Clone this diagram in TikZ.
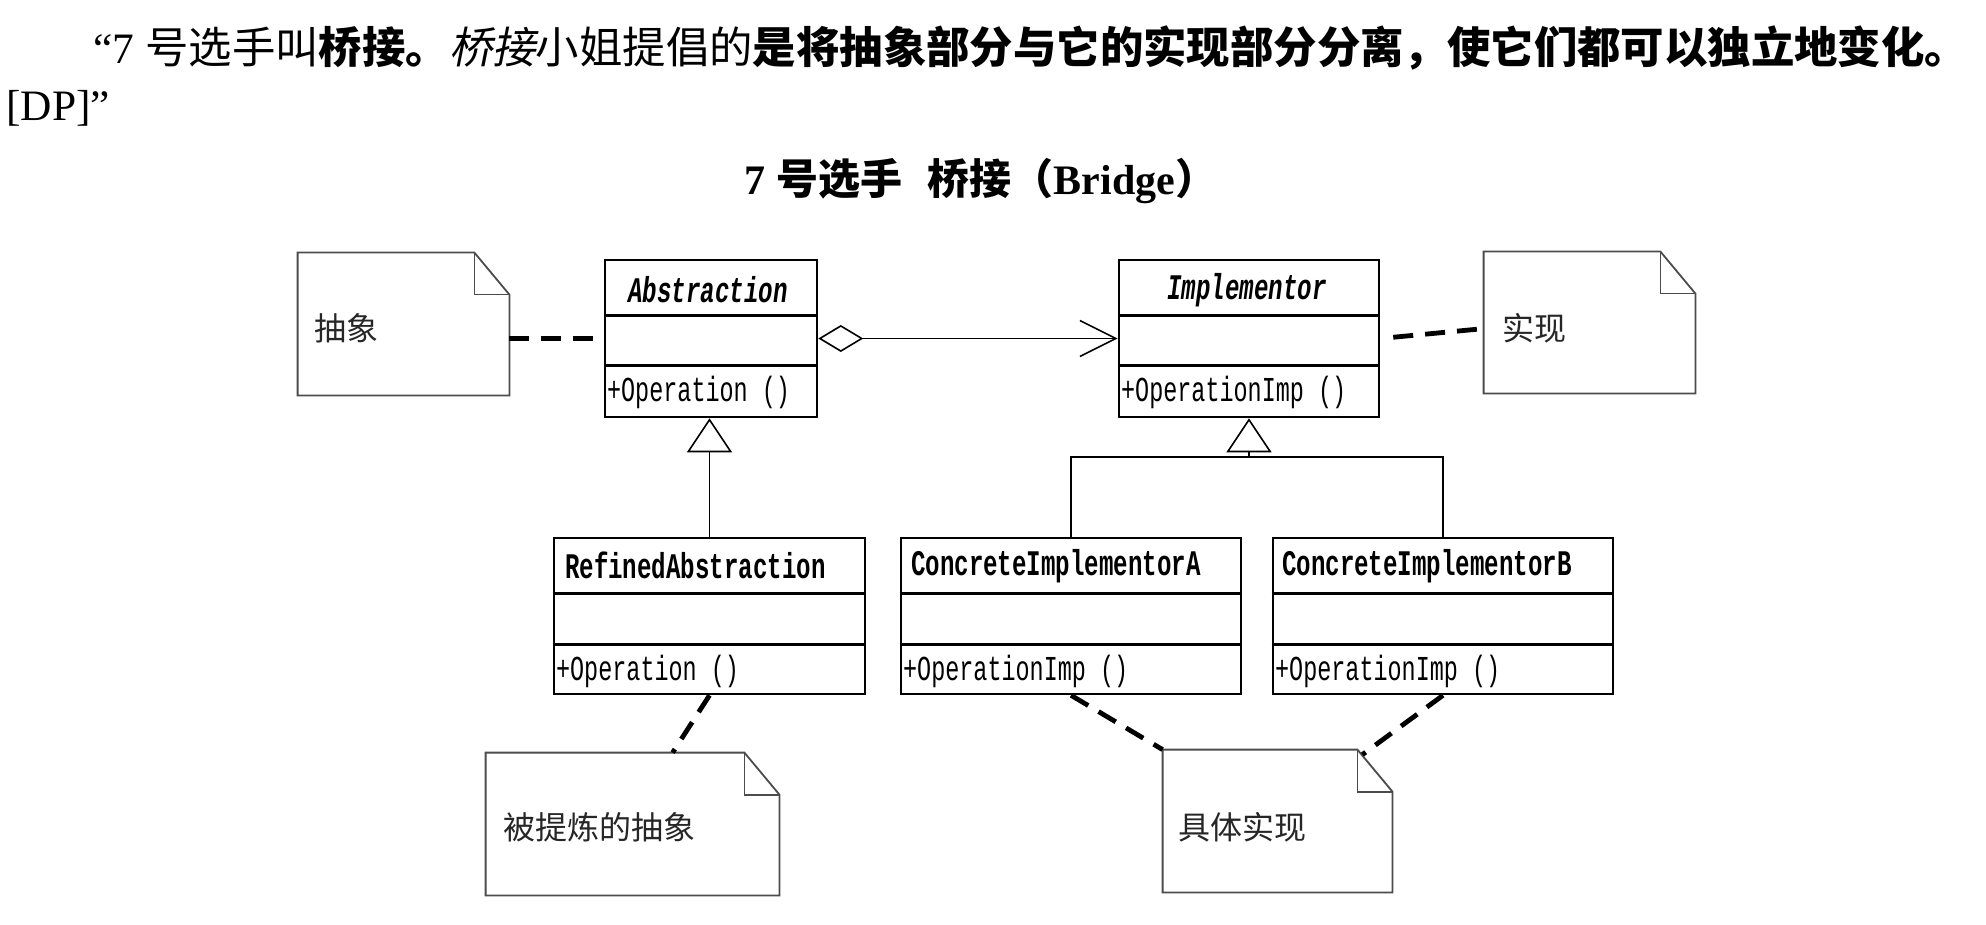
\documentclass[tikz,border=0pt]{standalone}
\usepackage{fontspec}
\setmainfont{Liberation Serif}
\newfontfamily\cjk{Noto Sans CJK SC}
\newfontfamily\cjkit[FakeSlant=0.2]{Noto Sans CJK SC}
\newfontfamily\umlfont[FakeStretch=0.67]{Liberation Mono}
\usetikzlibrary{arrows.meta,calc}
\tikzset{
  classbox/.style={draw, line width=1.3pt, inner sep=0pt},
  divider/.style={line width=1.3pt},
  notebox/.style={inner sep=0pt},
  noteline/.style={draw=black!70, line width=0.9pt},
  notetext/.style={font=\cjk\fontsize{16pt}{18pt}\selectfont, text=black!85, anchor=west, inner sep=0pt},
  clsname/.style={font=\umlfont\bfseries\fontsize{18pt}{20pt}\selectfont, anchor=west, inner sep=0pt},
  absname/.style={font=\umlfont\bfseries\itshape\fontsize{18pt}{20pt}\selectfont, inner sep=0pt},
  optext/.style={font=\umlfont\fontsize{17.5pt}{20pt}\selectfont, anchor=west, inner sep=0pt},
  notelink/.style={line width=2.4pt, dash pattern=on 10pt off 6pt},
  conn/.style={line width=0.8pt},
  inherit/.style={conn, -{Triangle[open, length=17pt, width=22.5pt]}},
  aggr/.style={conn, {Diamond[open, length=22.5pt, width=13.5pt]}-{Straight Barb[length=18pt, width=18pt]}},
}
\newcommand\drawnote[1]{%
  \draw[noteline] (#1.north west) -- ($(#1.north east)+(-35,0)$) -- ($(#1.north east)+(0,42)$) -- (#1.south east) -- (#1.south west) -- cycle;
  \draw[noteline] ($(#1.north east)+(-35,0)$) -- ($(#1.north east)+(-35,42)$) -- ($(#1.north east)+(0,42)$);
}
\begin{document}
\begin{tikzpicture}[x=0.5pt, y=-0.5pt]
\useasboundingbox (0,0) rectangle (1986,925);
\fill[white] (0,0) rectangle (1986,925);

% header text
\node[anchor=west, inner sep=0pt, font=\fontsize{21.7pt}{24pt}\selectfont] (l1) at (93,48)
  {“7 {\cjk 号选手叫\bfseries 桥接。}{\cjkit 桥接}{\cjk 小姐提倡的\bfseries 是将抽象部分与它的实现部分分离，使它们都可以独立地变化。}};
\node[anchor=west, inner sep=0pt, font=\fontsize{21.7pt}{24pt}\selectfont] (l2) at (6,108) {[DP]”};
\node[inner sep=0pt, font=\bfseries\fontsize{21pt}{24pt}\selectfont] (title) at (981,181)
  {7 {\cjk 号选手\hspace{0.6em}桥接（}Bridge{\cjk ）}};

% class boxes
\node[classbox, minimum width=106pt, minimum height=78.5pt] (abs) at (711,338.5) {};
\node[classbox, minimum width=130pt, minimum height=78.5pt] (imp) at (1249,338.5) {};
\node[classbox, minimum width=155.5pt, minimum height=78pt] (ref) at (709.5,616) {};
\node[classbox, minimum width=170pt, minimum height=78pt] (cia) at (1071,616) {};
\node[classbox, minimum width=170pt, minimum height=78pt] (cib) at (1443,616) {};

\foreach \b in {abs,imp}{
  \draw[divider] ($(\b.north west)+(0,57)$) -- ($(\b.north east)+(0,57)$);
  \draw[divider] ($(\b.north west)+(0,107)$) -- ($(\b.north east)+(0,107)$);
}
\foreach \b in {ref,cia,cib}{
  \draw[divider] ($(\b.north west)+(0,57)$) -- ($(\b.north east)+(0,57)$);
  \draw[divider] ($(\b.north west)+(0,108)$) -- ($(\b.north east)+(0,108)$);
}

% class texts
\node[absname] (absn) at (708,290) {Abstraction};
\node[absname] (impn) at (1247,290) {Implementor};
\node[optext] (abso) at ($(abs.south west)+(3,-26)$) {+Operation ()};
\node[optext] (impo) at ($(imp.south west)+(3,-26)$) {+OperationImp ()};
\node[clsname] (refn) at ($(ref.north west)+(12,29)$) {RefinedAbstraction};
\node[clsname] (cian) at ($(cia.north west)+(11,29)$) {ConcreteImplementorA};
\node[clsname] (cibn) at ($(cib.north west)+(10,29)$) {ConcreteImplementorB};
\node[optext] (refo) at ($(ref.south west)+(3,-24)$) {+Operation ()};
\node[optext] (ciao) at ($(cia.south west)+(3,-24)$) {+OperationImp ()};
\node[optext] (cibo) at ($(cib.south west)+(3,-24)$) {+OperationImp ()};

% notes
\node[notebox, minimum width=105.5pt, minimum height=71pt] (n1) at (403.5,324) {};
\node[notebox, minimum width=105.5pt, minimum height=70.5pt] (n2) at (1589.5,322.5) {};
\node[notebox, minimum width=146.5pt, minimum height=71pt] (n3) at (632.5,824) {};
\node[notebox, minimum width=114.5pt, minimum height=71pt] (n4) at (1277.5,821) {};
\drawnote{n1}\drawnote{n2}\drawnote{n3}\drawnote{n4}
\node[notetext] (n1t) at ($(n1.west)+(16,4)$) {抽象};
\node[notetext] (n2t) at ($(n2.west)+(18,5.5)$) {实现};
\node[notetext] (n3t) at ($(n3.west)+(17,3)$) {被提炼的抽象};
\node[notetext] (n4t) at ($(n4.west)+(15,6)$) {具体实现};

% note links
\draw[notelink] (n1.east |- abs.west) -- (abs.west);
\draw[notelink, shorten <=6.5pt] (imp.east) -- ($(n2.north west)+(0,77)$);
\draw[notelink] (ref.south) -- ($(n3.north west)+(187,0)$);
\draw[notelink] (cia.south) -- (n4.north west);
\draw[notelink] (cib.south) -- ($(n4.north east)+(-30,5)$);

% relations
\draw[aggr] (abs.east) -- (imp.west);
\draw[inherit] (ref.north) -- (ref.north |- abs.south);
\coordinate (lvl) at (0,457);
\draw[conn] (cia.north) -- (cia.north |- lvl) -- (cib.north |- lvl) -- (cib.north);
\draw[inherit] (imp.south |- lvl) -- (imp.south);
\end{tikzpicture}
\end{document}
